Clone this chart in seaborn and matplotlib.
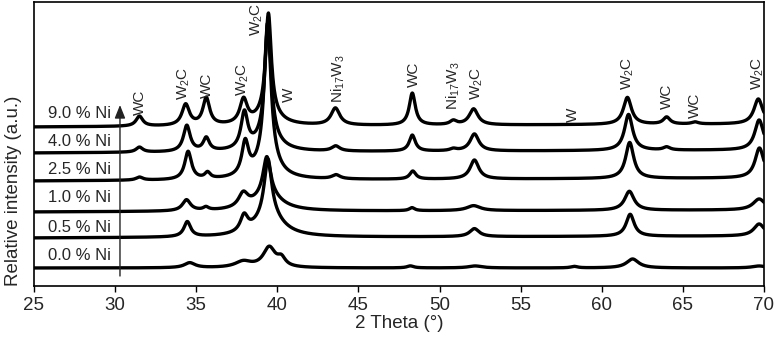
import numpy as np
import pandas as pd
import seaborn as sns
import matplotlib.pyplot as plt

# sample names, bottom to top
samples = ["0.0 % Ni", "0.5 % Ni", "1.0 % Ni", "2.5 % Ni", "4.0 % Ni", "9.0 % Ni"]
# baseline (a.u.) at 25 deg and at 70 deg
base_left = [18, 48, 74, 105, 133, 159]
base_right = [18, 50, 76, 108, 136, 162]

# peak position (deg), height (a.u.), fwhm (deg) for each sample
pos_00 = [34.6, 37.9, 39.5, 40.25, 48.2, 52.2, 58.3, 61.9, 69.7]
h_00 = [5, 6, 20, 8, 2, 2, 1.5, 9, 2]
w_00 = [0.8, 1.2, 0.9, 0.6, 0.5, 1.0, 0.5, 0.9, 1.0]

pos_05 = [34.45, 37.95, 39.42, 39.5, 52.15, 61.75, 69.7]
h_05 = [15, 16, 56, 22, 8, 22, 12]
w_05 = [0.5, 0.55, 0.55, 2.0, 0.7, 0.6, 0.8]

pos_10 = [34.4, 35.6, 37.9, 39.35, 39.4, 48.3, 52.1, 61.7, 69.7]
h_10 = [11, 3, 14, 38, 16, 3, 5, 19, 11]
w_10 = [0.6, 0.4, 0.7, 0.55, 2.0, 0.4, 1.0, 0.7, 0.9]

pos_25 = [31.5, 34.5, 35.7, 38.02, 39.4, 39.4, 43.62, 48.35, 52.15, 61.72, 69.72]
h_25 = [3, 28, 6, 33, 140, 16, 4, 8, 19, 36, 30]
w_25 = [0.5, 0.5, 0.4, 0.5, 0.5, 1.6, 0.6, 0.45, 0.65, 0.6, 0.65]

pos_40 = [31.5, 34.42, 35.62, 37.97, 39.42, 39.42, 43.6, 48.32, 50.85, 52.15, 61.65, 64.0, 69.7]
h_40 = [5, 26, 13, 36, 115, 14, 5, 16, 2, 17, 36, 3, 30]
w_40 = [0.5, 0.5, 0.45, 0.5, 0.45, 1.6, 0.6, 0.45, 0.5, 0.65, 0.6, 0.5, 0.65]

pos_90 = [31.5, 34.35, 35.62, 37.92, 39.45, 39.45, 43.58, 48.32, 50.85, 52.1, 61.58, 64.0, 65.75, 69.65]
h_90 = [10, 21, 27, 24, 100, 12, 17, 32, 4, 16, 27, 7, 2, 25]
w_90 = [0.5, 0.55, 0.5, 0.55, 0.42, 1.6, 0.65, 0.45, 0.5, 0.65, 0.6, 0.5, 0.5, 0.65]

peak_pos = [pos_00, pos_05, pos_10, pos_25, pos_40, pos_90]
peak_h = [h_00, h_05, h_10, h_25, h_40, h_90]
peak_w = [w_00, w_05, w_10, w_25, w_40, w_90]

# phase labels: text, position (deg), bottom of text (a.u.)
phase_text = ["WC", "W$_2$C", "WC", "W$_2$C", "W$_2$C", "W", "Ni$_{17}$W$_3$", "WC",
              "Ni$_{17}$W$_3$", "W$_2$C", "W", "W$_2$C", "WC", "WC", "W$_2$C"]
phase_x = [31.5, 34.25, 35.67, 37.85, 38.75, 40.7, 43.75, 48.4,
           50.85, 52.3, 58.2, 61.6, 64.0, 65.75, 69.6]
phase_y = [171, 186, 188, 190, 250, 184, 183, 199,
           176, 186, 164, 196, 177, 168, 196]

# sample label heights (a.u.)
label_y = [30, 59, 88, 116, 145, 173]

# build long-form dataframe
two_theta = np.linspace(25, 70, 2000)
frames = []
for name, bl, br, pos, hh, ww in zip(samples, base_left, base_right, peak_pos, peak_h, peak_w):
    y = bl + (br - bl) * (two_theta - 25) / 45
    for p, h, w in zip(pos, hh, ww):
        y = y + h / (1 + ((two_theta - p) / (w / 2)) ** 2)
    frames.append(pd.DataFrame({'two_theta': two_theta, 'intensity': y, 'sample': name}))
df = pd.concat(frames, ignore_index=True)

sns.set_style('ticks')
plt.rcParams['font.family'] = ['Liberation Sans', 'DejaVu Sans']
plt.rcParams['mathtext.fontset'] = 'custom'
plt.rcParams['mathtext.rm'] = 'Liberation Sans'
plt.rcParams['mathtext.it'] = 'Liberation Sans:italic'
plt.rcParams['mathtext.bf'] = 'Liberation Sans:bold'
plt.rcParams['mathtext.default'] = 'regular'

fig, ax = plt.subplots(figsize=(7.74, 3.38), dpi=100)
fig.subplots_adjust(left=34/774, right=764/774, bottom=52/338, top=336/338)

sns.lineplot(data=df, x='two_theta', y='intensity', hue='sample', hue_order=samples,
             palette=['black'] * len(samples), estimator=None, legend=False,
             linewidth=2.4, ax=ax)

ax.set_xlim(25, 70)
ax.set_ylim(0, 284)
ax.set_xticks(range(25, 71, 5))
ax.set_yticks([])
ax.tick_params(axis='x', labelsize=13.5, length=4, width=1, direction='out', pad=4, color='black')
for s in ax.spines.values():
    s.set_visible(True)
    s.set_color('black')
    s.set_linewidth(1.2)

ax.set_xlabel('2 Theta (°)', fontsize=13.5, labelpad=1)
ax.set_ylabel('Relative intensity (a.u.)', fontsize=13.5)
ax.yaxis.set_label_coords(-0.017, 0.335)

for name, ly in zip(samples, label_y):
    ax.text(29.75, ly, name, ha='right', va='center', fontsize=12)

ax.annotate('', xy=(30.3, 181), xytext=(30.3, 10),
            arrowprops=dict(arrowstyle='-|>,head_length=0.8,head_width=0.32',
                            lw=1, color='#222222', shrinkA=0, shrinkB=0))

for t, px, py in zip(phase_text, phase_x, phase_y):
    ax.text(px, py, t, rotation=90, ha='center', va='bottom', fontsize=11)

plt.savefig('out.png', dpi=100)
plt.close()
